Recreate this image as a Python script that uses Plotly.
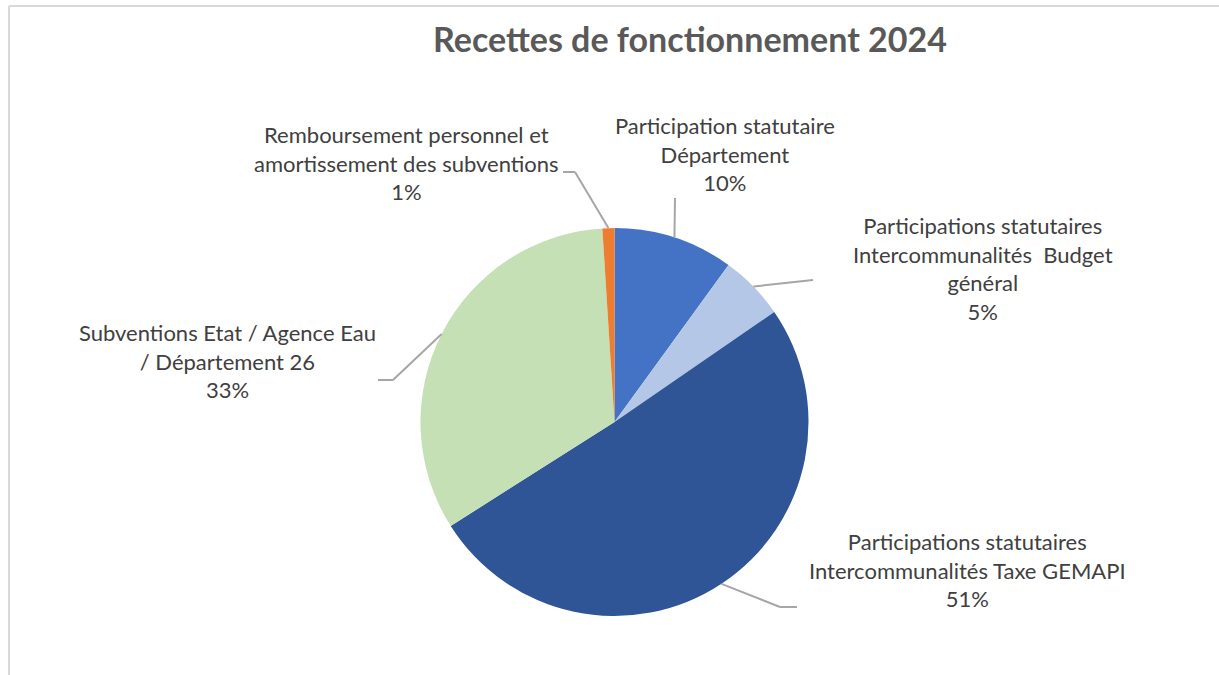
import math
import plotly.graph_objects as go

# data
labels = [
    "Participation statutaire<br>Département",
    "Participations statutaires<br>Intercommunalités  Budget<br>général",
    "Participations statutaires<br>Intercommunalités Taxe GEMAPI",
    "Subventions Etat / Agence Eau<br>/ Département 26",
    "Remboursement personnel et<br>amortissement des subventions",
]
values = [10.0, 5.4, 50.6, 33.0, 1.0]
colors = ["#4472C4", "#B4C7E7", "#2F5597", "#C5E0B4", "#ED7D31"]

W, H = 1219, 675
cx, cy, r = 614.5, 422, 194  # pie centre and radius in pixels

# label block centres and leader line elbows, in pixels
label_pos = [(725, 154), (983, 268), (967, 570), (227, 361), (406, 163)]
elbows = [[(675, 198)], [(813, 280)], [(780, 607), (797, 607)],
          [(393, 380), (378, 380)], [(575, 172), (563, 172)]]

fig = go.Figure(go.Pie(
    values=values,
    labels=labels,
    marker=dict(colors=colors, line=dict(width=0)),
    sort=False,
    direction="clockwise",
    rotation=0,
    textinfo="none",
    hoverinfo="label+percent",
    showlegend=False,
    domain=dict(x=[(cx - r) / W, (cx + r) / W], y=[(H - cy - r) / H, (H - cy + r) / H]),
))

total = sum(values)
shapes = []
annotations = []
cum = 0
for v, lab, pos, elb in zip(values, labels, label_pos, elbows):
    mid = (cum + v / 2) / total * 2 * math.pi
    cum += v
    pts = [(cx + r * math.sin(mid), cy - r * math.cos(mid))] + elb
    for (x0, y0), (x1, y1) in zip(pts[:-1], pts[1:]):
        shapes.append(dict(type="line", xref="paper", yref="paper",
                           x0=x0 / W, y0=1 - y0 / H, x1=x1 / W, y1=1 - y1 / H,
                           line=dict(color="#A6A6A6", width=2)))
    pct = f"{round(v / total * 100)}%"
    annotations.append(dict(
        text=lab + "<br>" + pct, x=pos[0] / W, y=1 - pos[1] / H,
        xref="paper", yref="paper", xanchor="center", yanchor="middle",
        showarrow=False, align="center",
        font=dict(family="Lato", size=22, color="#404040"),
    ))

# chart frame (top and left edges visible)
shapes.append(dict(type="line", xref="paper", yref="paper", x0=9 / W, y0=1 - 6 / H, x1=1, y1=1 - 6 / H,
                   line=dict(color="#D9D9D9", width=2)))
shapes.append(dict(type="line", xref="paper", yref="paper", x0=9 / W, y0=1 - 6 / H, x1=9 / W, y1=0,
                   line=dict(color="#D9D9D9", width=2)))

fig.update_layout(
    width=W, height=H,
    margin=dict(l=0, r=0, t=0, b=0),
    paper_bgcolor="white",
    title=dict(text="<b>Recettes de fonctionnement 2024</b>", x=690 / W, xanchor="center",
               y=1 - 40 / H, yanchor="middle",
               font=dict(family="Lato", size=34, color="#595959")),
    shapes=shapes,
    annotations=annotations,
)

fig.write_html("out.html", config={"displayModeBar": False},
               post_script="document.body.style.margin = '0';")
